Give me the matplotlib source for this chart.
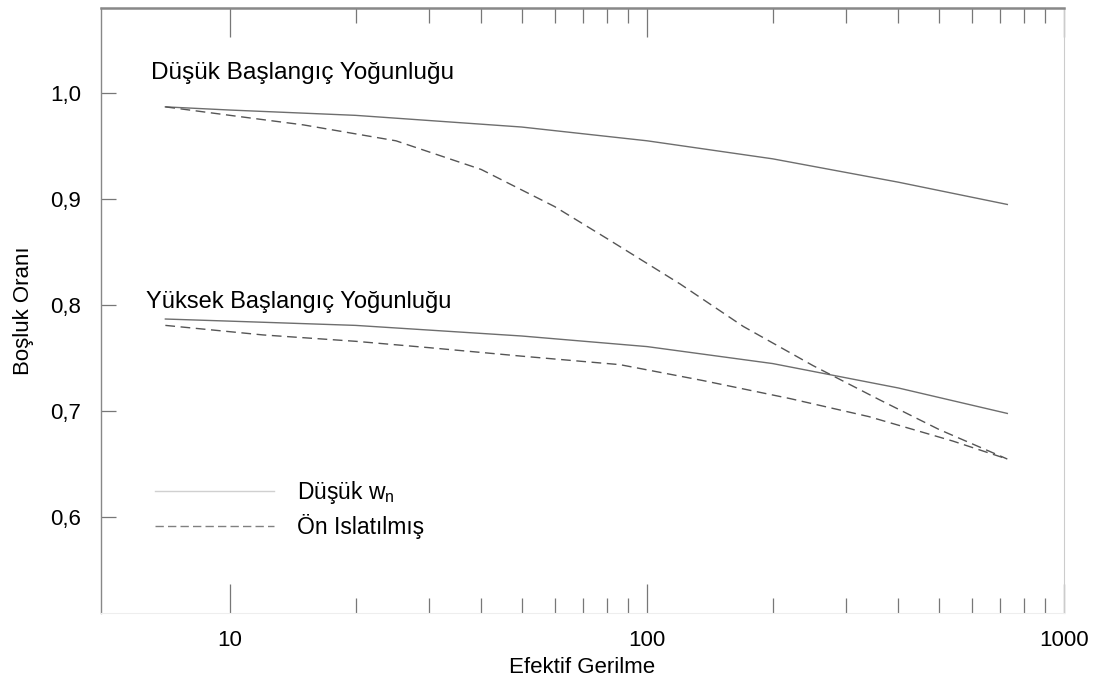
import numpy as np
import matplotlib
matplotlib.use("Agg")
import matplotlib.pyplot as plt
from matplotlib.ticker import NullFormatter, FixedLocator

plt.rcParams['font.family'] = ['Liberation Sans', 'DejaVu Sans']
plt.rcParams['mathtext.default'] = 'regular'

# Düşük başlangıç yoğunluğu
low_dry_x = [7, 10, 20, 50, 100, 200, 400, 730]
low_dry_y = [0.987, 0.984, 0.979, 0.968, 0.955, 0.938, 0.916, 0.895]
low_wet_x = [7, 10, 15, 25, 40, 60, 80, 120, 170, 250, 360, 500, 730]
low_wet_y = [0.987, 0.979, 0.970, 0.955, 0.928, 0.893, 0.863, 0.820, 0.780, 0.743, 0.711, 0.683, 0.655]

# Yüksek başlangıç yoğunluğu
high_dry_x = [7, 10, 20, 50, 100, 200, 400, 730]
high_dry_y = [0.787, 0.785, 0.781, 0.771, 0.761, 0.745, 0.722, 0.698]
high_wet_x = [7, 12, 20, 30, 50, 86, 136, 220, 340, 540, 730]
high_wet_y = [0.781, 0.772, 0.766, 0.760, 0.752, 0.744, 0.729, 0.712, 0.695, 0.672, 0.655]

y_ticks = [0.6, 0.7, 0.8, 0.9, 1.0]
y_labels = ['0,6', '0,7', '0,8', '0,9', '1,0']
x_major = [10, 100, 1000]
x_minor = [20, 30, 40, 50, 60, 70, 80, 90, 200, 300, 400, 500, 600, 700, 800, 900]

fig = plt.figure(figsize=(10.95, 6.84), dpi=100)
ax = fig.add_axes([0.092, 0.104, 0.88, 0.884])

solid = dict(color='#6e6e6e', lw=1.0, ls='-')
dashed = dict(color='#555555', lw=1.0, ls=(0, (7, 4)))

ax.plot(low_dry_x, low_dry_y, **solid)
ax.plot(high_dry_x, high_dry_y, **solid)
ax.plot(low_wet_x, low_wet_y, **dashed)
ax.plot(high_wet_x, high_wet_y, **dashed)

# legend samples as in the figure: very light solid, grey dashed
ax.plot([], [], color='#d0d0d0', lw=1.0, ls='-', label='Düşük w$_{n}$')
ax.plot([], [], color='#808080', lw=1.0, ls=(0, (6, 3)), label='Ön Islatılmış')

ax.set_xscale('log')
ax.set_xlim(4.9, 1000)
ax.set_ylim(0.51, 1.08)

ax.xaxis.set_major_locator(FixedLocator(x_major))
ax.set_xticklabels([str(v) for v in x_major])
ax.xaxis.set_minor_locator(FixedLocator(x_minor))
ax.xaxis.set_minor_formatter(NullFormatter())
ax.set_yticks(y_ticks)
ax.set_yticklabels(y_labels)

ax.tick_params(axis='x', which='major', direction='in', length=21, width=0.9,
               color='#777777', top=True, labelsize=16, pad=12)
ax.tick_params(axis='x', which='minor', direction='in', length=11, width=0.9,
               color='#777777', top=True)
ax.tick_params(axis='y', direction='in', length=11, width=0.9,
               color='#777777', right=False, labelsize=16, pad=14)

ax.spines['top'].set_color('#888888')
ax.spines['top'].set_linewidth(1.8)
ax.spines['left'].set_color('#888888')
ax.spines['left'].set_linewidth(1.0)
ax.spines['right'].set_color('#cccccc')
ax.spines['bottom'].set_color('#eeeeee')

ax.set_xlabel('Efektif Gerilme', fontsize=16, labelpad=5)
ax.set_ylabel('Boşluk Oranı', fontsize=16, labelpad=12)

ax.text(6.45, 1.019, 'Düşük Başlangıç Yoğunluğu', fontsize=17.6, va='center')
ax.text(6.3, 0.803, 'Yüksek Başlangıç Yoğunluğu', fontsize=17, va='center')

ax.legend(loc='center left', bbox_to_anchor=(0.035, 0.172), frameon=False,
          handlelength=5.2, fontsize=16.5, labelspacing=0.35, handletextpad=1.0)

fig.savefig('out.png', dpi=100)
